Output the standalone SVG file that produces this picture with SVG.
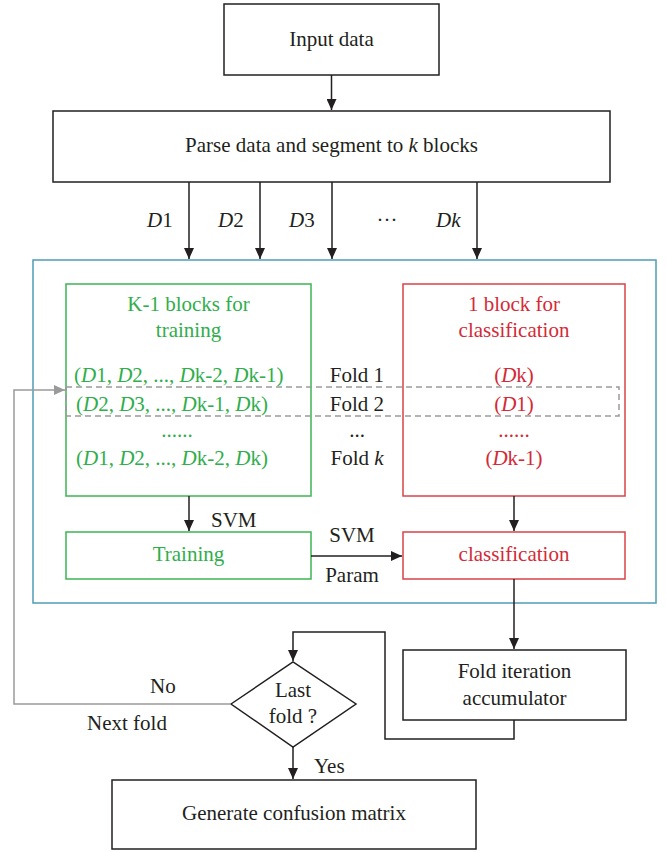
<svg xmlns="http://www.w3.org/2000/svg" width="667" height="852" viewBox="0 0 667 852">
<style>
text{font-family:"Liberation Serif","Times New Roman",serif;font-size:21px;fill:#231f20}
.c{text-anchor:middle}
.i{font-style:italic}
.g{fill:#2fae4b}
.r{fill:#d42a36}
.box{fill:#fff;stroke:#231f20;stroke-width:1.5}
.gb{fill:none;stroke:#3cb553;stroke-width:1.5}
.rb{fill:none;stroke:#d9434a;stroke-width:1.5}
.ln{fill:none;stroke:#231f20;stroke-width:1.5}
.gl{fill:none;stroke:#9a9a9a;stroke-width:1.5}
</style>
<defs>
<marker id="ah" markerUnits="userSpaceOnUse" markerWidth="12" markerHeight="10" refX="11" refY="5" orient="auto"><path d="M0,0 L11,5 L0,10 z" fill="#231f20"/></marker>
<marker id="ahg" markerUnits="userSpaceOnUse" markerWidth="12" markerHeight="10" refX="11" refY="5" orient="auto"><path d="M0,0 L11,5 L0,10 z" fill="#9a9a9a"/></marker>
</defs>
<rect width="667" height="852" fill="#fff"/>

<g id="outer"><rect x="33" y="260" width="623" height="343" fill="none" stroke="#4f9db5" stroke-width="1.5"/></g>

<g id="input"><rect class="box" x="224" y="4" width="215" height="71"/><text class="c" x="331.5" y="46">Input data</text></g>

<g id="parse"><rect class="box" x="53" y="111" width="557" height="71"/><text class="c" x="331.5" y="152">Parse data and segment to <tspan class="i">k</tspan> blocks</text></g>

<g id="training-set"><rect class="gb" x="66" y="284" width="245" height="212"/>
<text class="c g" x="188.5" y="311">K-1 blocks for</text>
<text class="c g" x="188.5" y="337">training</text>
<text class="g" x="74" y="382">(<tspan class="i">D</tspan>1, <tspan class="i">D</tspan>2, ..., <tspan class="i">D</tspan>k-2, <tspan class="i">D</tspan>k-1)</text>
<text class="g" x="76" y="411">(<tspan class="i">D</tspan>2, <tspan class="i">D</tspan>3, ..., <tspan class="i">D</tspan>k-1, <tspan class="i">D</tspan>k)</text>
<text class="c g" x="177" y="437">......</text>
<text class="g" x="76" y="465">(<tspan class="i">D</tspan>1, <tspan class="i">D</tspan>2, ..., <tspan class="i">D</tspan>k-2, <tspan class="i">D</tspan>k)</text>
</g>

<g id="folds">
<text class="c" x="357" y="382">Fold 1</text>
<text class="c" x="357" y="411">Fold 2</text>
<text class="c" x="357" y="437">...</text>
<text class="c" x="357" y="465">Fold <tspan class="i">k</tspan></text>
</g>

<g id="class-set"><rect class="rb" x="403" y="284" width="222" height="212"/>
<text class="c r" x="514" y="311">1 block for</text>
<text class="c r" x="514" y="337">classification</text>
<text class="c r" x="514" y="382">(<tspan class="i">D</tspan>k)</text>
<text class="c r" x="514" y="411">(<tspan class="i">D</tspan>1)</text>
<text class="c r" x="514" y="437">......</text>
<text class="c r" x="514" y="465">(<tspan class="i">D</tspan>k-1)</text>
</g>

<g id="fold-highlight"><rect x="66" y="387" width="553" height="29" fill="none" stroke="#9a9a9a" stroke-width="1.5" stroke-dasharray="6,4"/></g>

<g id="training"><rect class="gb" x="66" y="532" width="245" height="47"/><text class="c g" x="188.5" y="561">Training</text></g>

<g id="classification"><rect class="rb" x="403" y="532" width="222" height="47"/><text class="c r" x="514" y="561">classification</text></g>

<g id="accumulator"><rect class="box" x="403" y="650" width="223" height="70"/><text class="c" x="514.5" y="678">Fold iteration</text><text class="c" x="514.5" y="705">accumulator</text></g>

<g id="decision"><polygon points="231,704 293,662 356,704 293,747" fill="#fff" stroke="#231f20" stroke-width="1.5"/><text class="c" x="293" y="697">Last</text><text class="c" x="293" y="723">fold ?</text></g>

<g id="matrix"><rect class="box" x="112" y="780" width="364" height="69"/><text class="c" x="294" y="820">Generate confusion matrix</text></g>

<g id="connectors">
<line class="ln" x1="331.5" y1="75" x2="331.5" y2="110" marker-end="url(#ah)"/>
<line class="ln" x1="189" y1="182" x2="189" y2="259" marker-end="url(#ah)"/>
<line class="ln" x1="260" y1="182" x2="260" y2="259" marker-end="url(#ah)"/>
<line class="ln" x1="332" y1="182" x2="332" y2="259" marker-end="url(#ah)"/>
<line class="ln" x1="477" y1="182" x2="477" y2="259" marker-end="url(#ah)"/>
<line class="ln" x1="189" y1="496" x2="189" y2="531" marker-end="url(#ah)"/>
<line class="ln" x1="514" y1="496" x2="514" y2="531" marker-end="url(#ah)"/>
<line class="ln" x1="311" y1="556" x2="402" y2="556" marker-end="url(#ah)"/>
<line class="ln" x1="514" y1="579" x2="514" y2="649" marker-end="url(#ah)"/>
<polyline class="ln" points="514,720 514,739 385,739 385,632 293,632 293,661" marker-end="url(#ah)"/>
<line class="ln" x1="293" y1="747" x2="293" y2="779" marker-end="url(#ah)"/>
<polyline class="gl" points="231,704 14,704 14,390 65,390" marker-end="url(#ahg)"/>
<text class="i" x="147" y="227">D<tspan font-style="normal">1</tspan></text>
<text class="i" x="218" y="227">D<tspan font-style="normal">2</tspan></text>
<text class="i" x="289" y="227">D<tspan font-style="normal">3</tspan></text>
<text class="c" x="387" y="227">···</text>
<text class="i" x="436" y="227">Dk</text>
<text x="211" y="527">SVM</text>
<text class="c" x="352" y="542">SVM</text>
<text class="c" x="352" y="582">Param</text>
<text x="150" y="693">No</text>
<text x="87" y="730">Next fold</text>
<text x="314" y="773">Yes</text>
</g>
</svg>
